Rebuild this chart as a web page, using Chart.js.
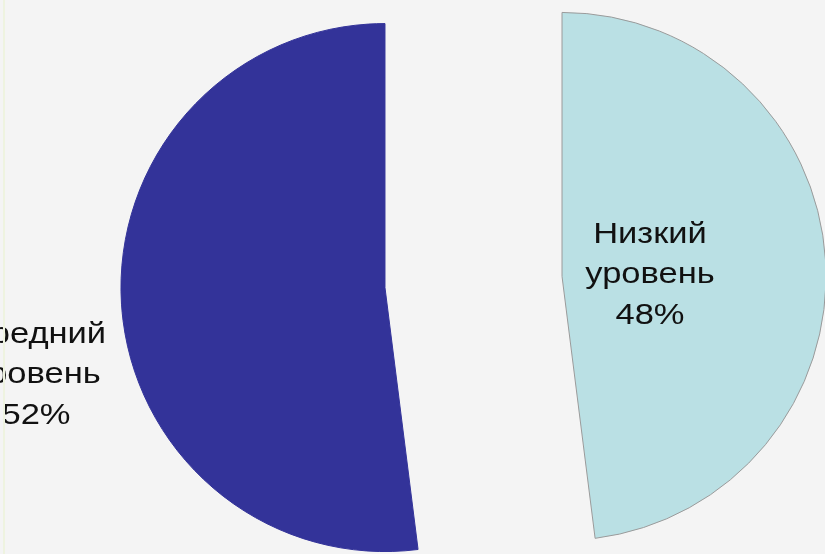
<!DOCTYPE html>
<html>
<head>
<meta charset="utf-8">
<script src="https://cdn.jsdelivr.net/npm/chart.js@4"></script>
<style>
  html, body { margin: 0; padding: 0; background: #f4f4f4; overflow: hidden; }
  #wrap { position: relative; width: 825px; height: 554px; }
  #edge { position: absolute; left: 3px; top: 0; width: 2px; height: 554px; background: #eef3e0; }
  canvas { display: block; }
</style>
</head>
<body>
<div id="wrap">
  <canvas id="c" width="825" height="554"></canvas>
  <div id="edge"></div>
</div>
<script>
const categories = ['Низкий уровень', 'Средний уровень'];
const values = [48, 52];
const sliceColors = ['#bae0e4', '#333399'];
const borderColors = ['#9a9a9a', '#333399'];

// Exploded slices: shift each arc along its bisector without shrinking its angle
const EXPLODE_DIST = 88.7;
const baseArcDraw = Chart.ArcElement.prototype.draw;
Chart.ArcElement.prototype.draw = function (ctx) {
  const half = (this.startAngle + this.endAngle) / 2;
  ctx.save();
  ctx.translate(Math.cos(half) * EXPLODE_DIST, Math.sin(half) * EXPLODE_DIST);
  baseArcDraw.call(this, ctx);
  ctx.restore();
};

const labelPlugin = {
  id: 'sliceLabels',
  afterDatasetsDraw(chart, args, opts) {
    const ctx = chart.ctx;
    const meta = chart.getDatasetMeta(0);
    const total = values.reduce((a, b) => a + b, 0);
    meta.data.forEach((arc, i) => {
      const words = categories[i].split(' ');
      const pct = Math.round(values[i] / total * 100) + '%';
      const lines = [...words, pct];
      const off = opts.offsets[i];
      const x = arc.x + off[0];
      const yMid = arc.y + off[1];
      const n = lines.length;
      lines.forEach((ln, k) => {
        const y = yMid + (k - (n - 1) / 2) * opts.lineHeight;
        ctx.save();
        ctx.font = opts.font;
        ctx.fillStyle = opts.color;
        ctx.textAlign = 'center';
        ctx.textBaseline = 'alphabetic';
        ctx.translate(x, y);
        ctx.scale(opts.stretch, 1);
        ctx.fillText(ln, 0, 0);
        ctx.restore();
      });
    });
  }
};

new Chart(document.getElementById('c'), {
  type: 'pie',
  data: {
    labels: categories,
    datasets: [{
      data: values,
      backgroundColor: sliceColors,
      borderColor: borderColors,
      borderWidth: [1, 1],
      offset: 0,
      hoverOffset: 0,
      radius: 264,
      clip: false
    }]
  },
  options: {
    responsive: false,
    animation: false,
    events: [],
    layout: { padding: { left: 122, top: 10, right: 0, bottom: 0 } },
    plugins: {
      legend: { display: false },
      tooltip: { enabled: false },
      sliceLabels: {
        font: '30px "Liberation Sans", Arial, sans-serif',
        color: '#111111',
        lineHeight: 40.5,
        stretch: 1.15,
        offsets: [[176.5, 1], [-437.5, 101]]
      }
    }
  },
  plugins: [labelPlugin]
});
</script>
</body>
</html>
